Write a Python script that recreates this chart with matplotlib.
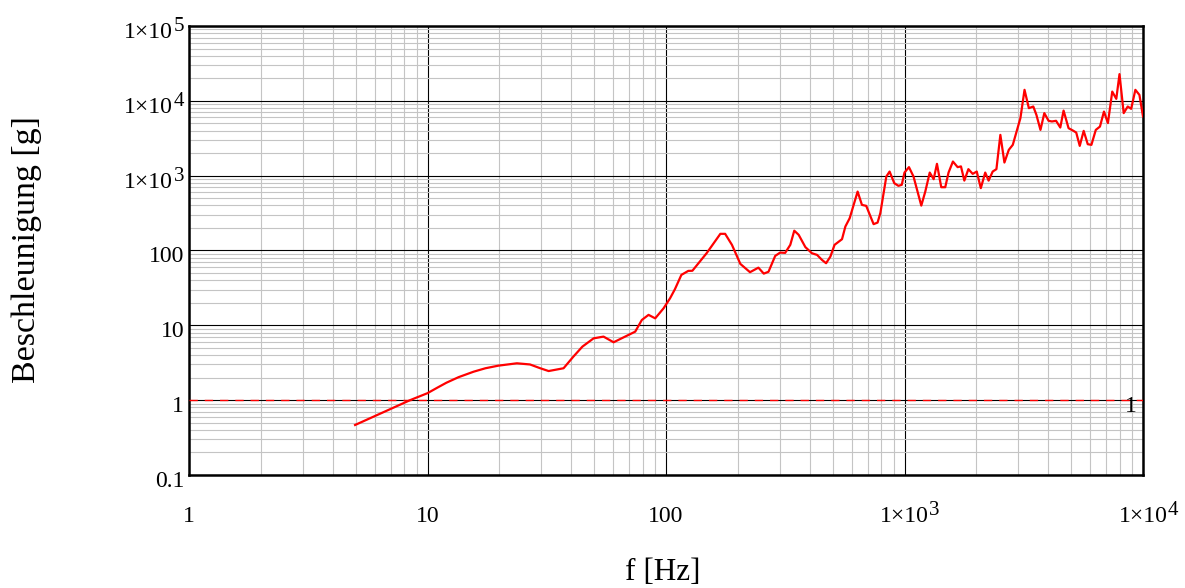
import math
import matplotlib
matplotlib.use("Agg")
import matplotlib.pyplot as plt
from matplotlib.ticker import LogLocator, FuncFormatter, NullFormatter
from matplotlib.transforms import ScaledTranslation

plt.rcParams['font.family'] = ['Liberation Serif', 'DejaVu Serif']

freq = [4.97, 8.45, 10, 11, 12, 13.5, 15.6, 17.5, 19.8, 23.7, 26.9, 29.7, 32.2, 37.2, 40.9,
        44.6, 49.7, 54.7, 60.3, 74.3, 79.2, 84.5, 90.1, 97.7, 104, 109, 116, 124, 129, 148,
        169, 177, 189, 205, 225, 244, 257, 269, 287, 301, 316, 332, 345, 360, 384, 409, 430,
        451, 469, 489, 509, 547, 565, 589, 636, 663, 691, 742, 771, 792, 839, 866, 906,
        943, 974, 1000, 1044, 1091, 1176, 1222, 1276, 1325, 1368, 1426, 1482, 1530,
        1596, 1670, 1725, 1782, 1853, 1932, 2009, 2089, 2180, 2252, 2343, 2429, 2523,
        2624, 2737, 2845, 3062, 3186, 3322, 3467, 3573, 3716, 3857, 4019, 4150, 4320,
        4500, 4645, 4874, 5084, 5248, 5430, 5640, 5866, 6077, 6340, 6600, 6860, 7127,
        7431, 7727, 7970, 8300, 8630, 8920, 9290, 9660, 10000]
accel = [0.466, 1.0, 1.24, 1.47, 1.71, 2.03, 2.4, 2.67, 2.89, 3.11, 3.0, 2.67, 2.45, 2.67,
         3.82, 5.19, 6.7, 7.07, 5.94, 8.24, 11.8, 13.8, 12.4, 16.9, 23, 30.4, 47.2, 53.4,
         53.6, 92, 167, 167, 119, 66.2, 51.3, 59, 49.1, 52, 84.7, 93.8, 93, 119, 184, 162,
         111, 92, 87.3, 74.8, 67.6, 83, 119, 141.6, 209, 270, 613, 407, 395, 225, 236, 316,
         973, 1135, 794, 731, 755, 1100, 1300, 973, 398, 612, 1100, 897, 1439, 701, 701,
         1100, 1545, 1300, 1330, 859, 1222, 1057, 1135, 681, 1100, 859, 1135, 1222, 3508,
         1497, 2213, 2583, 5876, 14030, 7980, 8400, 6500, 4090, 6850, 5410, 5300, 5410,
         4400, 7410, 4310, 4010, 3770, 2500, 3970, 2633, 2580, 4090, 4530, 7190, 5040,
         13300, 10630, 22750, 6850, 8400, 7820, 14030, 12000, 6200]

ref_level = 1

W, H = 1185, 588
fig = plt.figure(figsize=(W/100, H/100), dpi=100)
ax = fig.add_axes([189/W, 1-475/H, (1143-189)/W, (475-26)/H])
ax.set_xscale('log')
ax.set_yscale('log')
ax.set_xlim(1, 1e4)
ax.set_ylim(0.1, 1e5)

ax.xaxis.set_major_locator(LogLocator(base=10, numticks=10))
ax.yaxis.set_major_locator(LogLocator(base=10, numticks=10))
ax.xaxis.set_minor_locator(LogLocator(base=10, subs=range(2, 10), numticks=20))
ax.yaxis.set_minor_locator(LogLocator(base=10, subs=range(2, 10), numticks=20))
ax.xaxis.set_minor_formatter(NullFormatter())
ax.yaxis.set_minor_formatter(NullFormatter())

def fmt(v, pos):
    if v >= 1000:
        return '1\u00d710'
    if v < 1:
        return '0.1'
    return '%d' % int(round(v))

ax.xaxis.set_major_formatter(FuncFormatter(fmt))
ax.yaxis.set_major_formatter(FuncFormatter(fmt))

ax.grid(True, which='minor', color='#c4c4c4', lw=0.8)
ax.grid(True, which='major', color='black', lw=0.8)
ax.set_axisbelow(True)
ax.tick_params(which='both', length=0, labelsize=17)
ax.tick_params(axis='x', pad=33.6)
ax.tick_params(axis='y', pad=3.5)
for s in ax.spines.values():
    s.set_linewidth(1.8)
    s.set_color('black')

ax.axhline(ref_level, color='red', lw=1.0, dashes=(6, 5), zorder=3)
ax.plot(freq, accel, color='red', lw=1.6, zorder=4)
ax.annotate('1', xy=(1, ref_level), xycoords=('axes fraction', 'data'),
            xytext=(-8.6, -8.3), textcoords='offset points', ha='center', va='baseline',
            fontsize=17)

fig.text(27/W, 1-250/H, 'Beschleunigung [g]', rotation=90, ha='center', va='center', fontsize=24.5)
fig.text(663/W, 1-572/H, 'f [Hz]', ha='center', va='center', fontsize=22.5)

EXP_SIZE = 15
EXP_RAISE = 7    # px
EXP_W = 11       # px

fig.canvas.draw()
renderer = fig.canvas.get_renderer()

x_base = H - 521.7
for lab in ax.get_xticklabels():
    lab.set_va('baseline')
for lab in ax.get_xticklabels():
    v = lab.get_position()[0]
    if lab.get_text().startswith('1\u00d710') and 1 <= v <= 1e4 * 1.001:
        bb = lab.get_window_extent(renderer)
        fig.text((bb.x1 + 0.5)/W, (x_base + EXP_RAISE)/H, '%d' % round(math.log10(v)),
                 fontsize=EXP_SIZE, ha='left', va='baseline')

off_plain = ScaledTranslation(0, -12/100, fig.dpi_scale_trans)
off_exp = ScaledTranslation(-EXP_W/100, -12/100, fig.dpi_scale_trans)
for lab in ax.get_yticklabels():
    lab.set_va('baseline')
    if lab.get_text().startswith('1\u00d710'):
        lab.set_transform(lab.get_transform() + off_exp)
    else:
        lab.set_transform(lab.get_transform() + off_plain)
for lab in ax.get_yticklabels():
    v = lab.get_position()[1]
    if lab.get_text().startswith('1\u00d710') and 0.1 <= v <= 1e5 * 1.001:
        bb = lab.get_window_extent(renderer)
        ybase = ax.transData.transform((1, v))[1] - 12
        fig.text((bb.x1 + 0.5)/W, (ybase + EXP_RAISE)/H, '%d' % round(math.log10(v)),
                 fontsize=EXP_SIZE, ha='left', va='baseline')

fig.savefig('out.png', dpi=100)
